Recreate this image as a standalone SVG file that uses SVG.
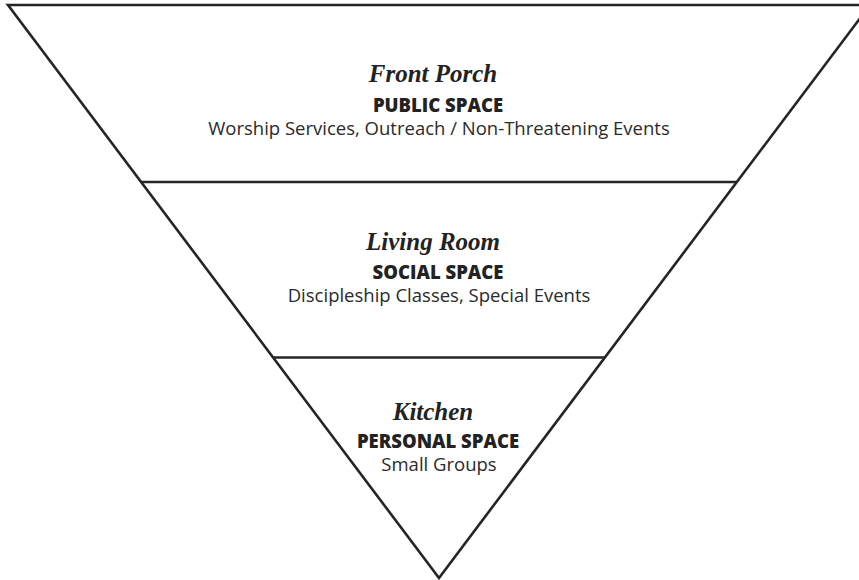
<svg xmlns="http://www.w3.org/2000/svg" width="859" height="580" viewBox="0 0 859 580">
<style>
.edge{stroke:#252525;stroke-width:2.6;fill:none;stroke-linejoin:miter}
.t{font-family:"Liberation Serif",serif;font-weight:bold;font-style:italic;font-size:25px;fill:#222;text-anchor:middle}
.s{font-family:"Open Sans","Noto Sans",sans-serif;font-weight:800;font-size:18.5px;fill:#222;text-anchor:middle}
.d{font-family:"Open Sans","Noto Sans",sans-serif;font-size:18.5px;fill:#2a2a2a;text-anchor:middle}
</style>
<rect width="859" height="580" fill="#fff"/>
<g id="connectors">
<path class="edge" d="M8,5 L870,5 L439,578 Z"/>
<line class="edge" x1="141" y1="182" x2="737" y2="182"/>
<line class="edge" x1="273" y1="357.5" x2="605" y2="357.5"/>
</g>
<g id="front-porch">
<text class="t" x="433" y="82">Front Porch</text>
<text class="s" x="438" y="112">PUBLIC SPACE</text>
<text class="d" x="439" y="135">Worship Services, Outreach / Non-Threatening Events</text>
</g>
<g id="living-room">
<text class="t" x="433" y="250">Living Room</text>
<text class="s" x="438" y="279">SOCIAL SPACE</text>
<text class="d" x="439" y="302">Discipleship Classes, Special Events</text>
</g>
<g id="kitchen">
<text class="t" x="433" y="420">Kitchen</text>
<text class="s" x="438" y="448">PERSONAL SPACE</text>
<text class="d" x="439" y="471">Small Groups</text>
</g>
</svg>
